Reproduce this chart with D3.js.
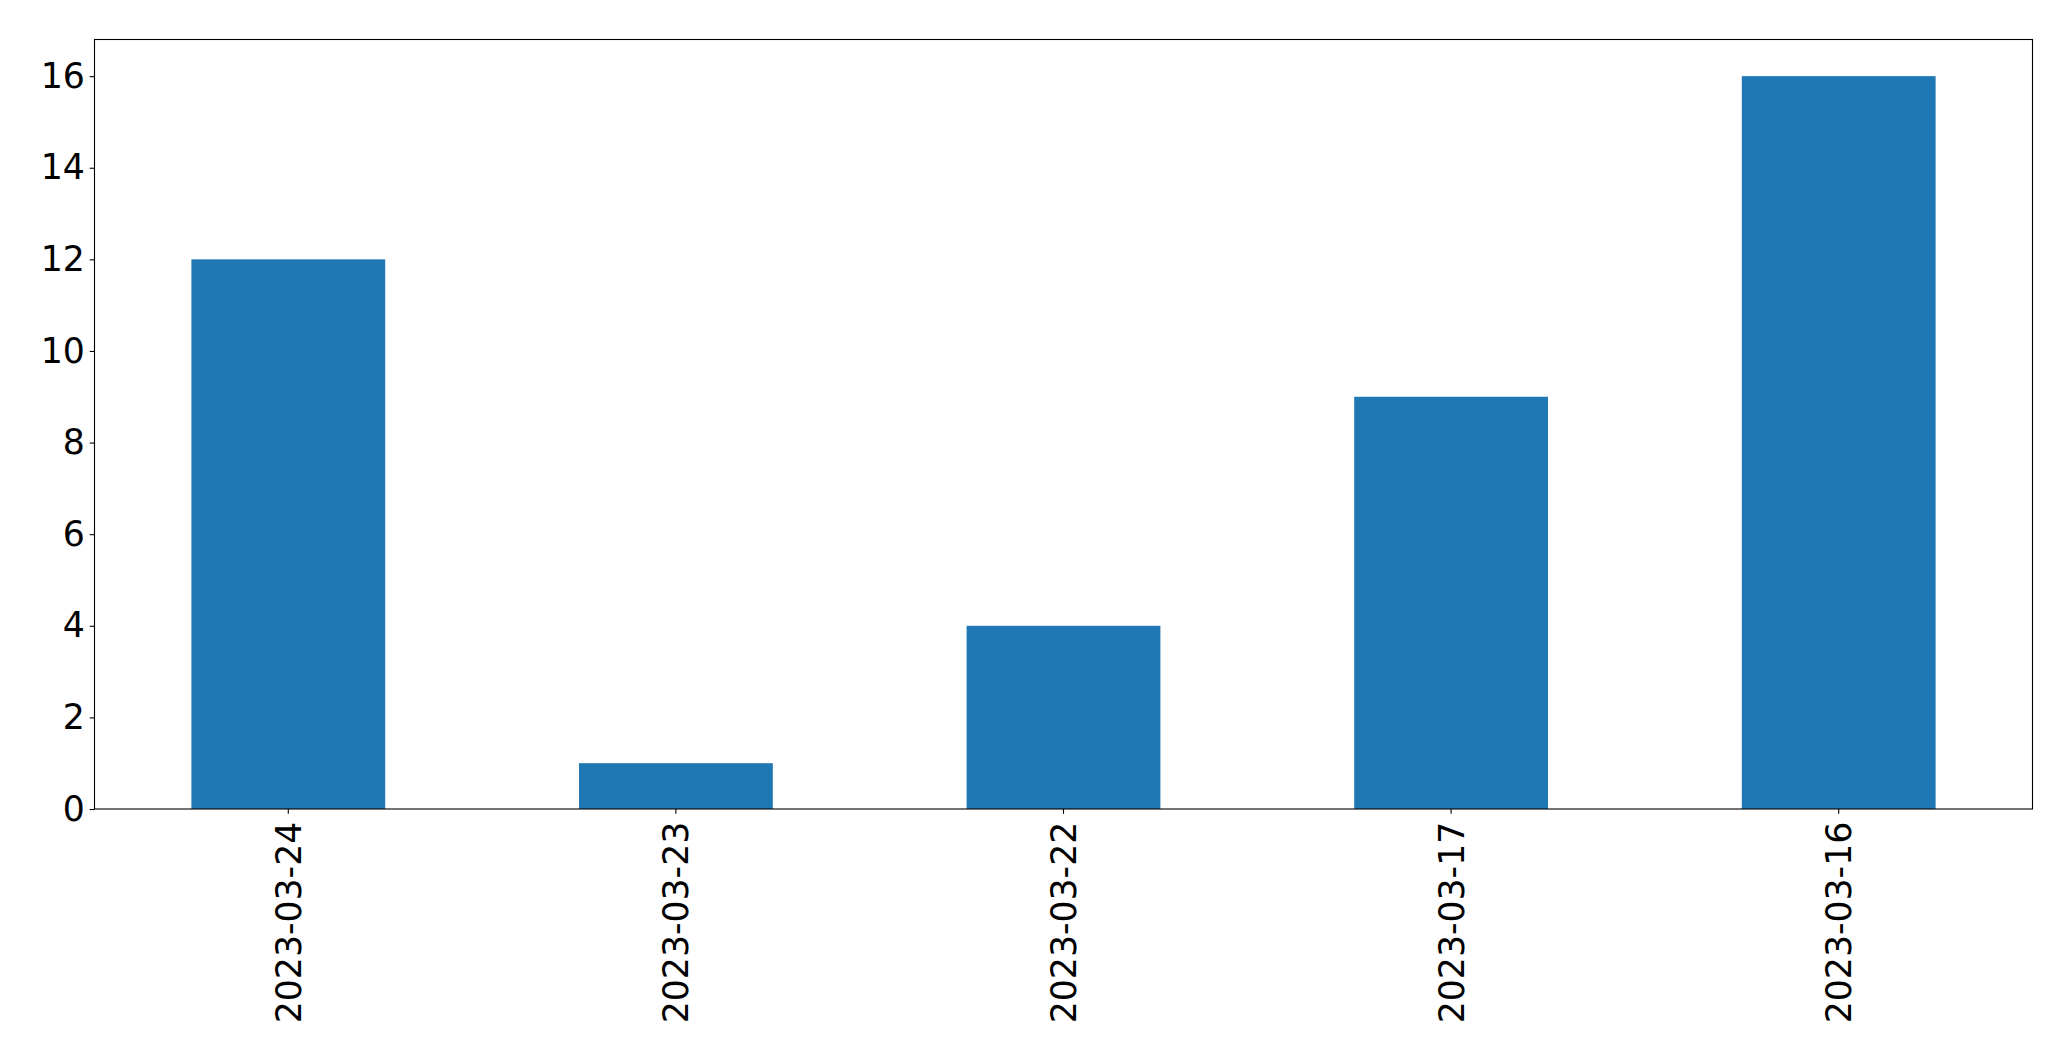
<!DOCTYPE html>
<html>
<head>
<meta charset="utf-8">
<script src="https://cdn.jsdelivr.net/npm/d3@7"></script>
<style>
  html, body { margin: 0; padding: 0; background: #fff; }
  svg { display: block; }
  text { font-family: "DejaVu Sans", sans-serif; }
</style>
</head>
<body>
<script>
const categories = ["2023-03-24", "2023-03-23", "2023-03-22", "2023-03-17", "2023-03-16"];
const values = [12, 1, 4, 9, 16];
const yTicks = [0, 2, 4, 6, 8, 10, 12, 14, 16];

const W = 2071, H = 1061;
const plot = { left: 94.5, top: 39.5, right: 2032.5, bottom: 809 };
const fontPx = 34.7;
const tickLen = 4.86;
const pad = 4.86;

const svg = d3.select("body").append("svg")
  .attr("width", W).attr("height", H);

const x = d3.scaleBand()
  .domain(categories)
  .range([plot.left, plot.right])
  .paddingInner(0.5)
  .paddingOuter(0.25);

const y = d3.scaleLinear()
  .domain([0, 16.8])
  .range([plot.bottom, plot.top]);

// bars
svg.append("g").selectAll("rect")
  .data(categories.map((c, i) => ({ c, v: values[i] })))
  .join("rect")
  .attr("x", d => x(d.c))
  .attr("width", x.bandwidth())
  .attr("y", d => y(d.v))
  .attr("height", d => y(0) - y(d.v))
  .attr("fill", "#1f77b4");

// y axis
const yAxis = d3.axisLeft(y)
  .tickValues(yTicks)
  .tickFormat(d3.format("d"))
  .tickSize(tickLen)
  .tickPadding(pad);
const gy = svg.append("g")
  .attr("transform", `translate(${plot.left},0)`)
  .call(yAxis);
gy.select(".domain").remove();
gy.selectAll(".tick line").attr("stroke", "#000").attr("stroke-width", 1.1);
gy.selectAll(".tick text")
  .attr("font-size", fontPx)
  .attr("fill", "#000")
  .style("font-family", "DejaVu Sans, sans-serif");

// x axis
const xAxis = d3.axisBottom(x)
  .tickSize(tickLen)
  .tickPadding(pad);
const gx = svg.append("g")
  .attr("transform", `translate(0,${plot.bottom})`)
  .call(xAxis);
gx.select(".domain").remove();
gx.selectAll(".tick line").attr("stroke", "#000").attr("stroke-width", 1.1);
gx.selectAll(".tick text")
  .attr("font-size", fontPx)
  .attr("fill", "#000")
  .style("font-family", "DejaVu Sans, sans-serif")
  .attr("text-anchor", "end")
  .attr("transform", `translate(0,${tickLen + pad + 3}) rotate(-90)`)
  .attr("x", 0)
  .attr("y", 0)
  .attr("dy", "0.36em");

// frame (spines)
svg.append("rect")
  .attr("x", plot.left)
  .attr("y", plot.top)
  .attr("width", plot.right - plot.left)
  .attr("height", plot.bottom - plot.top)
  .attr("fill", "none")
  .attr("stroke", "#000")
  .attr("stroke-width", 1.1);
</script>
</body>
</html>
